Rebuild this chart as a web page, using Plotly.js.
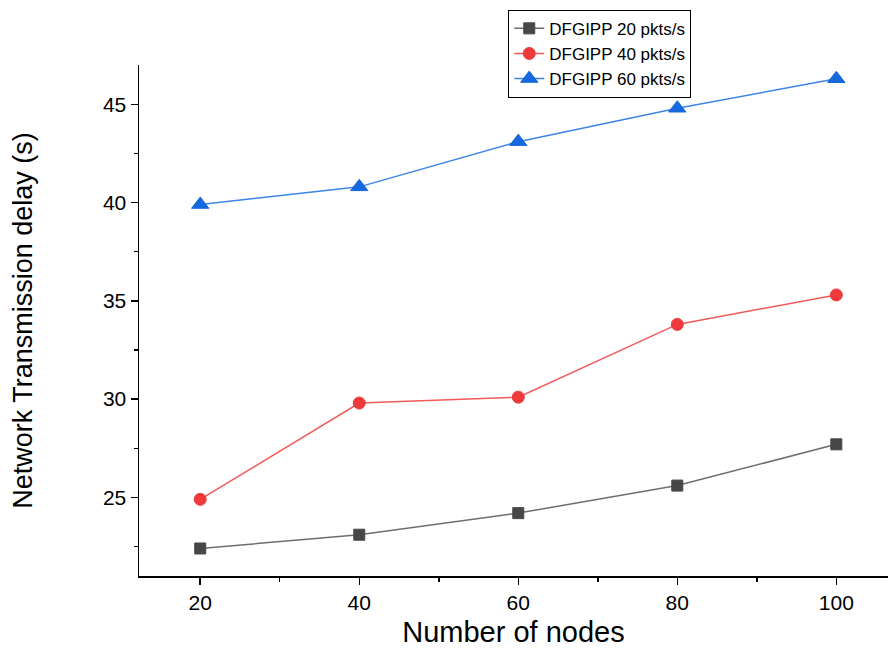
<!DOCTYPE html>
<html>
<head>
<meta charset="utf-8">
<script src="https://cdn.plot.ly/plotly-3.0.1.min.js"></script>
<style>html,body{margin:0;padding:0;background:#fff;}#chart{width:888px;height:655px;}</style>
</head>
<body>
<div id="chart"></div>
<script>
const nodes = [20, 40, 60, 80, 100];
const delay20 = [22.4, 23.1, 24.2, 25.6, 27.7];
const delay40 = [24.9, 29.8, 30.1, 33.8, 35.3];
const delay60 = [39.9, 40.8, 43.1, 44.8, 46.3];
const seriesNames = ["DFGIPP 20 pkts/s", "DFGIPP 40 pkts/s", "DFGIPP 60 pkts/s"];
const yTicks = [25, 30, 35, 40, 45];

const FONT = "Liberation Sans, Arial, sans-serif";

const traces = [
  {x: nodes, y: delay20, name: seriesNames[0], mode: "lines+markers",
   line: {color: "#6e6e6e", width: 1.5},
   marker: {symbol: "square", size: 11, color: "#474747", line: {color: "#474747", width: 1}}},
  {x: nodes, y: delay40, name: seriesNames[1], mode: "lines+markers",
   line: {color: "#f25a5a", width: 1.5},
   marker: {symbol: "circle", size: 12, color: "#ee3a3a", line: {color: "#ee3a3a", width: 1}}},
  {x: nodes, y: delay60, name: seriesNames[2], mode: "lines+markers",
   line: {color: "#3d85e6", width: 1.5},
   marker: {symbol: "triangle-up", size: 15, color: "#1568dd", line: {color: "#1568dd", width: 1}}}
];

const layout = {
  width: 888, height: 655,
  margin: {l: 139, r: 0, t: 65, b: 79},
  paper_bgcolor: "#fff", plot_bgcolor: "#fff",
  showlegend: true,
  legend: {x: 0.493, y: 1.108, xanchor: "left", yanchor: "top",
           bgcolor: "#fff", bordercolor: "#000", borderwidth: 1,
           font: {family: FONT, size: 17, color: "#000"},
           tracegroupgap: 0, itemsizing: "trace"},
  xaxis: {
    range: [12.3, 106.5], tickvals: nodes, ticktext: nodes.map(String),
    showline: true, linecolor: "#000", linewidth: 1.5, mirror: false,
    showgrid: false, zeroline: false,
    ticks: "outside", ticklen: 7, tickwidth: 1.5, tickcolor: "#000",
    minor: {tickvals: [30, 50, 70, 90], ticks: "outside", ticklen: 4, tickwidth: 1.5, tickcolor: "#000", showgrid: false},
    tickfont: {family: FONT, size: 21, color: "#000"},
    title: {text: "Number of nodes", standoff: 9,
            font: {family: FONT, size: 29, color: "#000"}}
  },
  yaxis: {
    range: [21, 47], tickvals: yTicks,
    showline: true, linecolor: "#000", linewidth: 1.5, mirror: false,
    showgrid: false, zeroline: false,
    ticks: "outside", ticklen: 7, tickwidth: 1.5, tickcolor: "#000",
    minor: {tickvals: [22.5, 27.5, 32.5, 37.5, 42.5], ticks: "outside", ticklen: 4, tickwidth: 1.5, tickcolor: "#000", showgrid: false},
    tickfont: {family: FONT, size: 21, color: "#000"},
    title: {text: "Network Transmission delay (s)", standoff: 62,
            font: {family: FONT, size: 27, color: "#000"}}
  }
};

Plotly.newPlot("chart", traces, layout, {displayModeBar: false, staticPlot: true});
</script>
</body>
</html>
